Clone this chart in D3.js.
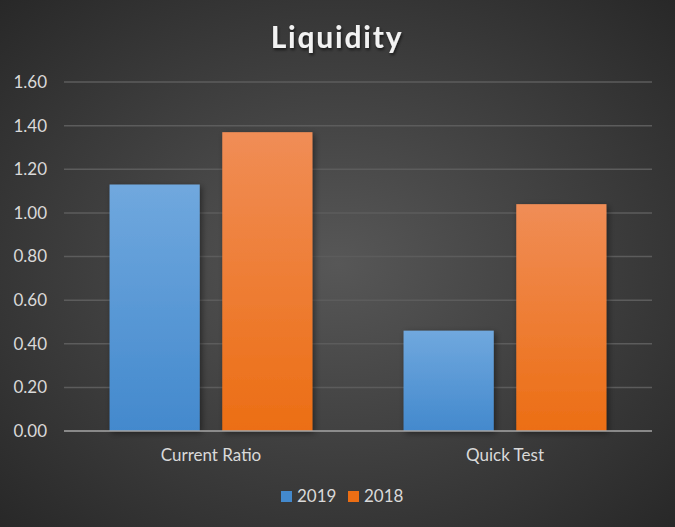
<!DOCTYPE html>
<style>
    body { margin: 0; background: #333; }
    svg { display: block; }
</style>
<svg width="675" height="527"></svg>
<script src="https://d3js.org/d3.v7.min.js"></script>
<script>

    var categories = ["Current Ratio", "Quick Test"];
    var seriesNames = ["2019", "2018"];
    var values2019 = [1.13, 0.46];
    var values2018 = [1.37, 1.04];
    var yTicks = [0, 0.2, 0.4, 0.6, 0.8, 1.0, 1.2, 1.4, 1.6];

    var svg = d3.select("svg"),
        margin = { top: 82, right: 23, bottom: 96, left: 64 },
        width = +svg.attr("width") - margin.left - margin.right,
        height = +svg.attr("height") - margin.top - margin.bottom;

    var defs = svg.append("defs");

    var bg = defs.append("radialGradient")
        .attr("id", "bg")
        .attr("cx", "50%").attr("cy", "50%").attr("r", "75%");
    bg.append("stop").attr("offset", "0%").attr("stop-color", "#575757");
    bg.append("stop").attr("offset", "100%").attr("stop-color", "#252525");

    var colors = {
        "2019": ["#70a8de", "#4389cd"],
        "2018": ["#f08d56", "#ec6e14"]
    };
    seriesNames.forEach(function (s) {
        var g = defs.append("linearGradient")
            .attr("id", "grad" + s)
            .attr("x1", 0).attr("y1", 0).attr("x2", 0).attr("y2", 1);
        g.append("stop").attr("offset", "0%").attr("stop-color", colors[s][0]);
        g.append("stop").attr("offset", "100%").attr("stop-color", colors[s][1]);
    });

    var shadow = defs.append("filter").attr("id", "shadow")
        .attr("x", "-20%").attr("y", "-20%").attr("width", "140%").attr("height", "140%");
    shadow.append("feDropShadow")
        .attr("dx", 2).attr("dy", 2).attr("stdDeviation", 3)
        .attr("flood-color", "#000").attr("flood-opacity", 0.45);

    var titleShadow = defs.append("filter").attr("id", "tshadow");
    titleShadow.append("feDropShadow")
        .attr("dx", 1).attr("dy", 2).attr("stdDeviation", 1.5)
        .attr("flood-color", "#000").attr("flood-opacity", 0.6);

    svg.append("rect")
        .attr("width", 675).attr("height", 527)
        .attr("fill", "url(#bg)");

    svg.append("text")
        .attr("x", 337)
        .attr("y", 48)
        .attr("text-anchor", "middle")
        .attr("font-family", "Lato, 'Open Sans', sans-serif")
        .attr("font-weight", "bold")
        .attr("font-size", 30)
        .attr("letter-spacing", 1.8)
        .attr("fill", "#f2f2f2")
        .attr("filter", "url(#tshadow)")
        .text("Liquidity");

    var x0 = d3.scaleBand()
        .domain(categories)
        .range([0, width])
        .paddingInner(0.31)
        .paddingOuter(0.155);

    var x1 = d3.scaleBand()
        .domain(seriesNames)
        .range([0, x0.bandwidth()])
        .paddingInner(0.2);

    var y = d3.scaleLinear()
        .domain([0, 1.6])
        .range([height, 0]);

    var focus = svg.append("g")
        .attr("transform", "translate(" + margin.left + "," + margin.top + ")");

    // gridlines
    focus.append("g")
        .selectAll("line")
        .data(yTicks.slice(1))
        .enter().append("line")
        .attr("x1", 0).attr("x2", width)
        .attr("y1", function (d) { return y(d); })
        .attr("y2", function (d) { return y(d); })
        .attr("stroke", "#5c5c5c")
        .attr("stroke-width", 1.5);

    var yAxis = d3.axisLeft(y)
        .tickValues(yTicks)
        .tickFormat(d3.format(".2f"))
        .tickSize(0)
        .tickPadding(17);

    var yg = focus.append("g").call(yAxis);
    yg.select(".domain").remove();
    yg.selectAll("text")
        .attr("fill", "#d9d9d9")
        .attr("font-family", "Lato, 'Open Sans', sans-serif")
        .attr("font-size", 17);

    var data = categories.map(function (c, i) {
        return { category: c, values: [
            { series: "2019", value: values2019[i] },
            { series: "2018", value: values2018[i] }
        ] };
    });

    var groups = focus.selectAll(".group")
        .data(data)
        .enter().append("g")
        .attr("class", "group")
        .attr("transform", function (d) { return "translate(" + x0(d.category) + ",0)"; });

    groups.selectAll("rect")
        .data(function (d) { return d.values; })
        .enter().append("rect")
        .attr("x", function (d) { return x1(d.series); })
        .attr("width", x1.bandwidth())
        .attr("y", function (d) { return y(d.value); })
        .attr("height", function (d) { return height - y(d.value); })
        .attr("fill", function (d) { return "url(#grad" + d.series + ")"; })
        .attr("filter", "url(#shadow)");

    // baseline
    focus.append("line")
        .attr("x1", 0).attr("x2", width)
        .attr("y1", height).attr("y2", height)
        .attr("stroke", "#a6a6a6")
        .attr("stroke-width", 1.5);

    var xAxis = d3.axisBottom(x0).tickSize(0).tickPadding(18);
    var xg = focus.append("g")
        .attr("transform", "translate(0," + height + ")")
        .call(xAxis);
    xg.select(".domain").remove();
    xg.selectAll("text")
        .attr("fill", "#d9d9d9")
        .attr("font-family", "Lato, 'Open Sans', sans-serif")
        .attr("font-size", 17);

    // legend
    var legend = svg.append("g").attr("transform", "translate(281,491)");
    var legendX = [0, 67];
    seriesNames.forEach(function (s, i) {
        var item = legend.append("g").attr("transform", "translate(" + legendX[i] + ",0)");
        item.append("rect")
            .attr("width", 11).attr("height", 11)
            .attr("fill", colors[s][1]);
        item.append("text")
            .attr("x", 16).attr("y", 11)
            .attr("fill", "#d9d9d9")
            .attr("font-family", "Lato, 'Open Sans', sans-serif")
            .attr("font-size", 17)
            .text(s);
    });

</script>
